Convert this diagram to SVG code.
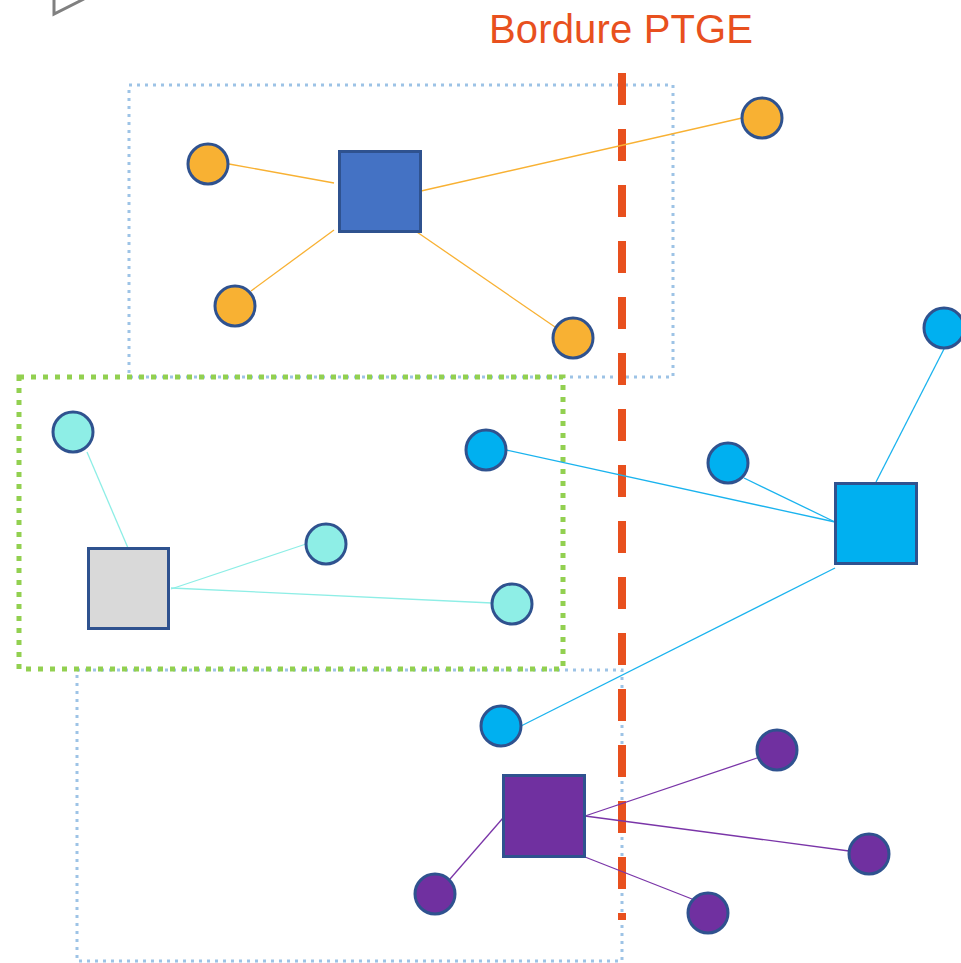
<svg xmlns="http://www.w3.org/2000/svg" width="961" height="963" viewBox="0 0 961 963">
<style>
.circ{stroke:#2F528F;stroke-width:3}
.sq{stroke:#2F528F;stroke-width:3}
.or{fill:#F8B133}.cy{fill:#8EEEE6}.bl{fill:#00B0F0}.pu{fill:#7030A0}
.zone{fill:none}
.lo{stroke:#F8B133;stroke-width:1.3}
.lc{stroke:#8EEEE6;stroke-width:1.3}
.lb{stroke:#1AB3EE;stroke-width:1.3}
.lp{stroke:#7A35A8;stroke-width:1.3}
</style>
<rect width="961" height="963" fill="#ffffff"/>
<polyline points="54,-2 54,14 84,-1" fill="none" stroke="#808080" stroke-width="3"/>
<g id="zones">
<rect class="zone" x="129" y="85" width="544" height="292" stroke="#9DC3E6" stroke-width="3" stroke-dasharray="3 5"/>
<rect class="zone" x="77" y="670" width="545" height="291" stroke="#9DC3E6" stroke-width="3" stroke-dasharray="3 5"/>
<rect class="zone" x="19" y="377" width="544" height="292" stroke="#92D050" stroke-width="5" stroke-dasharray="5 7"/>
</g>
<g id="border">
<line x1="622" y1="73" x2="622" y2="920" stroke="#E8501E" stroke-width="8" stroke-dasharray="32 24"/>
<text x="489" y="43" font-family="Liberation Sans, Arial, sans-serif" font-size="40" fill="#E8501E" textLength="264">Bordure PTGE</text>
</g>
<g id="connectors">
<line class="lo" x1="229" y1="164" x2="334" y2="183"/>
<line class="lo" x1="251" y1="291" x2="334" y2="230"/>
<line class="lo" x1="421" y1="191" x2="742" y2="118"/>
<line class="lo" x1="414" y1="230" x2="555" y2="327"/>
<line class="lc" x1="128" y1="548" x2="87" y2="452"/>
<line class="lc" x1="171" y1="589" x2="306" y2="544"/>
<line class="lc" x1="171" y1="588" x2="492" y2="603"/>
<line class="lb" x1="876" y1="482" x2="944" y2="349"/>
<line class="lb" x1="744" y1="478" x2="835" y2="522"/>
<line class="lb" x1="506" y1="450" x2="835" y2="522"/>
<line class="lb" x1="835" y1="568" x2="521" y2="726"/>
<line class="lp" x1="503" y1="818" x2="450" y2="879"/>
<line class="lp" x1="585" y1="816" x2="760" y2="757"/>
<line class="lp" x1="585" y1="816" x2="849" y2="851"/>
<line class="lp" x1="585" y1="857" x2="692" y2="899"/>
</g>
<g id="node-sq-blue"><rect class="sq" x="339.5" y="151.5" width="81" height="80" fill="#4472C4"/></g>
<g id="node-o1"><circle class="circ or" cx="208" cy="164" r="20"/></g>
<g id="node-o2"><circle class="circ or" cx="235" cy="306" r="20"/></g>
<g id="node-o3"><circle class="circ or" cx="573" cy="338" r="20"/></g>
<g id="node-o4"><circle class="circ or" cx="762" cy="118" r="20"/></g>
<g id="node-sq-gray"><rect class="sq" x="88.5" y="548.5" width="80" height="80" fill="#D9D9D9"/></g>
<g id="node-c1"><circle class="circ cy" cx="73" cy="432" r="20"/></g>
<g id="node-c2"><circle class="circ cy" cx="326" cy="544" r="20"/></g>
<g id="node-c3"><circle class="circ cy" cx="512" cy="604" r="20"/></g>
<g id="node-sq-cyan"><rect class="sq" x="835.5" y="483.5" width="81" height="80" fill="#00B0F0"/></g>
<g id="node-b1"><circle class="circ bl" cx="944" cy="328" r="20"/></g>
<g id="node-b2"><circle class="circ bl" cx="728" cy="463" r="20"/></g>
<g id="node-b3"><circle class="circ bl" cx="486" cy="450" r="20"/></g>
<g id="node-b4"><circle class="circ bl" cx="501" cy="726" r="20"/></g>
<g id="node-sq-purple"><rect class="sq" x="503.5" y="775.5" width="81" height="81" fill="#7030A0"/></g>
<g id="node-p1"><circle class="circ pu" cx="777" cy="750" r="20"/></g>
<g id="node-p2"><circle class="circ pu" cx="869" cy="854" r="20"/></g>
<g id="node-p3"><circle class="circ pu" cx="708" cy="913" r="20"/></g>
<g id="node-p4"><circle class="circ pu" cx="435" cy="894" r="20"/></g>
</svg>
